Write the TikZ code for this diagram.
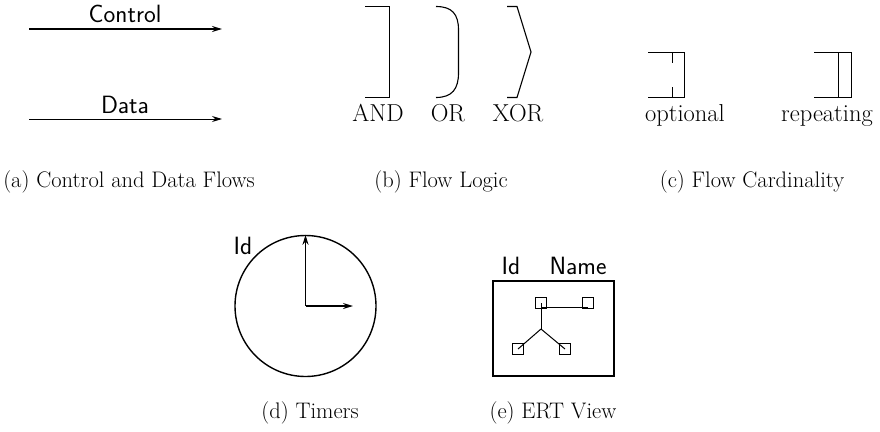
\documentclass[tikz,border=0pt]{standalone}
\usetikzlibrary{arrows.meta}
\begin{document}
\begin{tikzpicture}[x=1pt,y=-1pt,
  line/.style={line width=1.1pt, line join=miter},
  flowarrow/.style={line width=1.2pt, -{Stealth[length=10pt,width=6pt]}},
  sanslabel/.style={font=\fontsize{25}{28}\selectfont\sffamily, inner sep=0pt, anchor=base},
  seriflabel/.style={font=\fontsize{24.5}{28}\selectfont, inner sep=0pt, anchor=base},
  caption/.style={font=\fontsize{22.5}{26}\selectfont, inner sep=0pt, anchor=base},
  smallbox/.style={draw, line width=1pt, minimum size=11pt, inner sep=0pt},
]
\useasboundingbox (0,0) rectangle (880,431);

% (a) Control and Data flows
\coordinate (c1) at (29,29);
\coordinate (c2) at (222,29);
\draw[flowarrow, line width=1.5pt] (c1) -- (c2);
\node[sanslabel] (ctl) at (125,22) {Control};
\coordinate (d1) at (29,119);
\coordinate (d2) at (222,119);
\draw[flowarrow, line width=1pt] (d1) -- (d2);
\node[sanslabel] (dat) at (125,113) {Data};
\node[caption] (capa) at (129,187) {(a) Control and Data Flows};

% (b) Flow logic
\draw[line] (365,6.5) -- (389.5,6.5) -- (389.5,97.5) -- (365,97.5);
\draw[line] (436,6.5) .. controls (452,6.5) and (458.5,14) .. (458.5,30) -- (458.5,73) .. controls (458.5,89) and (452,97.5) .. (436,97.5);
\draw[line] (507,6.5) -- (517,6.5) -- (531,52) -- (517,97.5) -- (507,97.5);
\node[seriflabel] (and) at (378,121) {AND};
\node[seriflabel] (or) at (448,121) {OR};
\node[seriflabel] (xor) at (518,121) {XOR};
\node[caption] (capb) at (441,187) {(b) Flow Logic};

% (c) Flow cardinality
\draw[line, line width=1pt] (648,52.5) -- (684.5,52.5) -- (684.5,97.5) -- (648,97.5);
\draw[line, line width=1pt] (672.5,52.5) -- (672.5,63);
\draw[line, line width=1pt] (672.5,87) -- (672.5,97.5);
\node[seriflabel] (opt) at (685,121) {optional};
\draw[line, line width=1pt] (814,52.5) -- (851.5,52.5) -- (851.5,97.5) -- (814,97.5);
\draw[line, line width=1pt] (838.5,52.5) -- (838.5,97.5);
\node[seriflabel] (rep) at (827,121) {repeating};
\node[caption] (capc) at (752,187) {(c) Flow Cardinality};

% (d) Timers
\node[draw, circle, line width=1.4pt, minimum size=141pt, inner sep=0pt] (clock) at (305.5,306) {};
\coordinate (ctr) at (305.5,306);
\coordinate (hand) at (353,306);
\draw[flowarrow, line width=1.5pt] (ctr) -- (clock.north);
\draw[flowarrow, line width=1.5pt] (ctr) -- (hand);
\node[sanslabel] (tid) at (243,254) {Id};
\node[caption] (capd) at (310,418) {(d) Timers};

% (e) ERT view
\node[draw, line width=1.4pt, minimum width=121pt, minimum height=95pt, inner sep=0pt] (ert) at (553.5,328.5) {};
\node[sanslabel] (eid) at (511,274) {Id};
\node[sanslabel] (ename) at (578,274) {Name};
\node[smallbox] (s1) at (541,303) {};
\node[smallbox] (s2) at (588,303) {};
\node[smallbox] (s3) at (518,349) {};
\node[smallbox] (s4) at (565,349) {};
\coordinate (j) at (541,329);
\draw[line width=1pt] (s1.center) ++(0,4) coordinate (s1b) -- (s2.center |- s1b);
\draw[line width=1pt] (s1.center) -- (j);
\draw[line width=1pt] (j) -- (s3.center);
\draw[line width=1pt] (j) -- (s4.center);
\node[caption] (cape) at (553,418) {(e) ERT View};
\end{tikzpicture}
\end{document}
